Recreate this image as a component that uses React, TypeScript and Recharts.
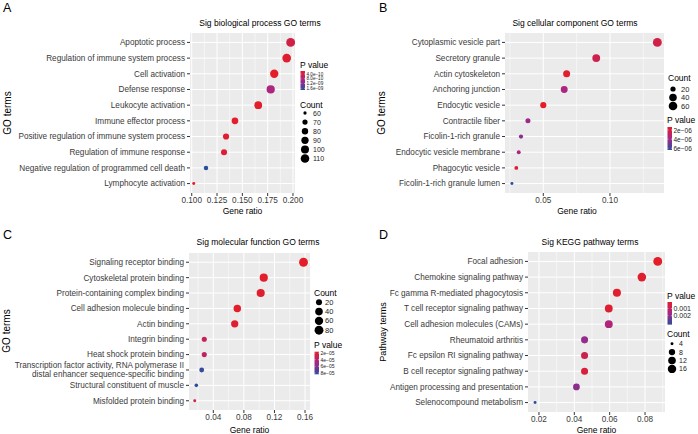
import React from "react";
import { CartesianGrid, Cell, Scatter, ScatterChart, XAxis, YAxis, ZAxis } from "recharts";

const FONT = "'Liberation Sans', Arial, Helvetica, sans-serif";
const AXIS_TEXT = "#3A3A3A";

// A: biological process
const bpTerms = [
  "Apoptotic process",
  "Regulation of immune system process",
  "Cell activation",
  "Defense response",
  "Leukocyte activation",
  "Immune effector process",
  "Positive regulation of immune system process",
  "Regulation of immune response",
  "Negative regulation of programmed cell death",
  "Lymphocyte activation"
];
const bpRatio = [0.1977, 0.1938, 0.1815, 0.178, 0.1657, 0.1427, 0.1339, 0.1319, 0.1141, 0.102];
const bpCount = [115, 112, 105, 103, 96, 83, 78, 77, 66, 59];
const bpPValue = [3.8e-10, 2.2e-10, 1.5e-10, 8.6e-10, 1.6e-10, 1.7e-10, 2.0e-10, 2.4e-10, 1.74e-9, 1.4e-10];
const bpRatioTicks = [0.1, 0.125, 0.15, 0.175, 0.2];
const bpRatioMinor = [0.1125, 0.1375, 0.1625, 0.1875];
const bpCountLegend = [60, 70, 80, 90, 100, 110];
const bpPLegend = [4e-10, 8e-10, 1.2e-9, 1.6e-9];

// B: cellular component
const ccTerms = [
  "Cytoplasmic vesicle part",
  "Secretory granule",
  "Actin cytoskeleton",
  "Anchoring junction",
  "Endocytic vesicle",
  "Contractile fiber",
  "Ficolin-1-rich granule",
  "Endocytic vesicle membrane",
  "Phagocytic vesicle",
  "Ficolin-1-rich granule lumen"
];
const ccRatio = [0.1355, 0.0897, 0.0675, 0.0657, 0.05, 0.0385, 0.0333, 0.0316, 0.0298, 0.0265];
const ccCount = [66, 44, 33, 32, 25, 19, 16, 15, 15, 13];
const ccPValue = [2.1e-6, 2.3e-6, 1.5e-6, 3.6e-6, 1.33e-6, 4.1e-6, 4.5e-6, 3.5e-6, 1.7e-6, 6.4e-6];
const ccRatioTicks = [0.05, 0.1];
const ccRatioMinor = [0.025, 0.075, 0.125];
const ccCountLegend = [20, 40, 60];
const ccPLegend = [2e-6, 4e-6, 6e-6];

// C: molecular function
const mfTerms = [
  "Signaling receptor binding",
  "Cytoskeletal protein binding",
  "Protein-containing complex binding",
  "Cell adhesion molecule binding",
  "Actin binding",
  "Integrin binding",
  "Heat shock protein binding",
  "Transcription factor activity, RNA polymerase II\ndistal enhancer sequence-specific binding",
  "Structural constituent of muscle",
  "Misfolded protein binding"
];
const mfRatio = [0.158, 0.106, 0.102, 0.0714, 0.068, 0.0282, 0.0282, 0.0248, 0.0178, 0.0157];
const mfCount = [81, 54, 52, 37, 35, 14, 14, 13, 9, 8];
const mfPValue = [1.6e-5, 1.7e-5, 1.8e-5, 1.7e-5, 1.9e-5, 3.3e-5, 3.6e-5, 8.1e-5, 8.4e-5, 3.1e-5];
const mfRatioTicks = [0.04, 0.08, 0.12, 0.16];
const mfRatioMinor = [0.02, 0.06, 0.1, 0.14];
const mfCountLegend = [20, 40, 60, 80];
const mfPLegend = [2e-5, 4e-5, 6e-5, 8e-5];

// D: KEGG pathways
const keggTerms = [
  "Focal adhesion",
  "Chemokine signaling pathway",
  "Fc gamma R-mediated phagocytosis",
  "T cell receptor signaling pathway",
  "Cell adhesion molecules (CAMs)",
  "Rheumatoid arthritis",
  "Fc epsilon RI signaling pathway",
  "B cell receptor signaling pathway",
  "Antigen processing and presentation",
  "Selenocompound metabolism"
];
const keggRatio = [0.0872, 0.0782, 0.0641, 0.0595, 0.0595, 0.0458, 0.0458, 0.0458, 0.0412, 0.0178];
const keggCount = [19, 17, 14, 13, 13, 10, 10, 10, 9, 4];
const keggPValue = [1.2e-4, 2.5e-4, 2.0e-4, 3.0e-4, 1.41e-3, 1.9e-3, 7.4e-4, 4.3e-4, 1.97e-3, 3.2e-3];
const keggRatioTicks = [0.02, 0.04, 0.06, 0.08];
const keggRatioMinor = [0.03, 0.05, 0.07, 0.09];
const keggCountLegend = [4, 8, 12, 16];
const keggPLegend = [0.001, 0.002];

// symbol area range (px^2); the z axis is fed log(count)
const SIZE_RANGE: [number, number] = [7, 62];
const COLOR_STOPS: [number, number[]][] = [
  [0, [228, 30, 40]],
  [0.5, [166, 38, 138]],
  [1, [44, 76, 157]]
];

function rgb(c: number[]) {
  return `rgb(${c.map((v) => Math.round(v)).join(",")})`;
}

function gradientColor(t: number) {
  const k = Math.max(0, Math.min(1, t));
  for (let i = 1; i < COLOR_STOPS.length; i++) {
    const [o1, c1] = COLOR_STOPS[i];
    const [o0, c0] = COLOR_STOPS[i - 1];
    if (k <= o1) {
      const f = (k - o0) / (o1 - o0);
      return rgb(c0.map((v, j) => v + (c1[j] - v) * f));
    }
  }
  return rgb(COLOR_STOPS[COLOR_STOPS.length - 1][1]);
}

function expLabel(v: number, digits: number) {
  const [m, e] = v.toExponential(digits).split("e");
  const n = Number(e);
  return `${m}e${n < 0 ? "\u2212" : "+"}${String(Math.abs(n)).padStart(2, "0")}`;
}

const panels = [
  {
    letter: "A", title: "Sig biological process GO terms", yTitle: "GO terms",
    terms: bpTerms, ratio: bpRatio, count: bpCount, pvalue: bpPValue,
    xTicks: bpRatioTicks, xMinor: bpRatioMinor, xDomain: [0.0983, 0.202], xDigits: 3,
    countLegend: bpCountLegend, pLegend: bpPLegend, pLabel: (v: number) => expLabel(v, 1)
  },
  {
    letter: "B", title: "Sig cellular component GO terms", yTitle: "GO terms",
    terms: ccTerms, ratio: ccRatio, count: ccCount, pvalue: ccPValue,
    xTicks: ccRatioTicks, xMinor: ccRatioMinor, xDomain: [0.0213, 0.1405], xDigits: 2,
    countLegend: ccCountLegend, pLegend: ccPLegend, pLabel: (v: number) => expLabel(v, 0)
  },
  {
    letter: "C", title: "Sig molecular function GO terms", yTitle: "GO terms",
    terms: mfTerms, ratio: mfRatio, count: mfCount, pvalue: mfPValue,
    xTicks: mfRatioTicks, xMinor: mfRatioMinor, xDomain: [0.0082, 0.1665], xDigits: 2,
    countLegend: mfCountLegend, pLegend: mfPLegend, pLabel: (v: number) => expLabel(v, 0)
  },
  {
    letter: "D", title: "Sig KEGG pathway terms", yTitle: "Pathway terms",
    terms: keggTerms, ratio: keggRatio, count: keggCount, pvalue: keggPValue,
    xTicks: keggRatioTicks, xMinor: keggRatioMinor, xDomain: [0.0138, 0.0913], xDigits: 2,
    countLegend: keggCountLegend, pLegend: keggPLegend, pLabel: (v: number) => v.toFixed(3)
  }
];

// where things sit inside each 349x217 quadrant
const layouts = [
  {
    x: 0, y: 0, top: 33, right: 54, yAxisW: 190, xAxisH: 24,
    letter: [3, 12], title: [260, 23], yTitle: [7, 113, 10], xTitle: [242.5, 211],
    p: { x: 300, y: 65, barTop: 71, barH: 19, font: 4.6 },
    count: { x: 300, y: 105, first: 8, step: 9.1, dx: 13, font: 7 }
  },
  {
    x: 349, y: 0, top: 33, right: 34, yAxisW: 156, xAxisH: 24,
    letter: [30, 12], title: [226, 23], yTitle: [32, 113, 10], xTitle: [228, 211],
    p: { x: 318, y: 120, barTop: 127, barH: 23, font: 6.5 },
    count: { x: 319, y: 77.7, first: 11.3, step: 8.5, dx: 13, font: 7.5 }
  },
  {
    x: 0, y: 217, top: 36, right: 39, yAxisW: 189, xAxisH: 24,
    letter: [3, 22], title: [258, 25], yTitle: [6, 114, 10], xTitle: [249.5, 213],
    p: { x: 314, y: 128, barTop: 134.7, barH: 22.6, font: 5 },
    count: { x: 314, y: 75.7, first: 9.6, step: 9.3, dx: 11, font: 7.5 }
  },
  {
    x: 349, y: 217, top: 35, right: 33, yAxisW: 179, xAxisH: 22,
    letter: [30, 22], title: [241, 25], yTitle: [34, 115, 9], xTitle: [247.5, 213],
    p: { x: 318, y: 78.7, barTop: 85, barH: 22.6, font: 7 },
    count: { x: 318, y: 117, first: 9.7, step: 8.4, dx: 12, font: 7 }
  }
];

function TermTick(props: any) {
  const { x, y, payload, labels } = props;
  const label: string = labels[payload.value - 1] ?? "";
  const lines = label.split("\n");
  const lineH = 8.8;
  const startDy = -((lines.length - 1) * lineH) / 2 + 2.9;
  return (
    <text x={x} y={y} textAnchor="end" fontSize={8.2} fill={AXIS_TEXT} fontFamily={FONT}>
      {lines.map((line, i) => (
        <tspan key={i} x={x} dy={i === 0 ? startDy : lineH}>
          {line}
        </tspan>
      ))}
    </text>
  );
}

function Panel({ panel, layout }: { panel: (typeof panels)[number]; layout: (typeof layouts)[number] }) {
  const points = panel.terms.map((term, i) => ({
    term,
    rank: i + 1,
    ratio: panel.ratio[i],
    count: panel.count[i],
    logCount: Math.log(panel.count[i]),
    p: panel.pvalue[i]
  }));
  const ranks = points.map((pt) => pt.rank);
  const lMin = Math.log(Math.min(...panel.count));
  const lMax = Math.log(Math.max(...panel.count));
  const pMin = Math.min(...panel.pvalue);
  const pMax = Math.max(...panel.pvalue);
  // same mapping as the ZAxis below, for the legend keys
  const area = (c: number) =>
    SIZE_RANGE[0] + ((Math.log(c) - lMin) / (lMax - lMin)) * (SIZE_RANGE[1] - SIZE_RANGE[0]);
  const gradId = `pgrad-${panel.letter}`;
  const { p, count } = layout;

  return (
    <div style={{ position: "absolute", left: layout.x, top: layout.y, width: 349, height: 217 }}>
      <ScatterChart width={349} height={217} margin={{ top: layout.top, right: layout.right, bottom: 0, left: 0 }}>
        <CartesianGrid fill="#EBEBEB" stroke="#FFFFFF" strokeWidth={1} verticalValues={panel.xTicks} horizontalValues={ranks} />
        <CartesianGrid stroke="#FFFFFF" strokeWidth={0.5} horizontal={false} verticalValues={panel.xMinor} />
        <XAxis
          type="number"
          dataKey="ratio"
          domain={panel.xDomain}
          ticks={panel.xTicks}
          allowDataOverflow
          interval={0}
          height={layout.xAxisH}
          axisLine={false}
          tickSize={3}
          tickMargin={1}
          tickLine={{ stroke: "#333333" }}
          tick={{ fontSize: 8.2, fill: AXIS_TEXT, fontFamily: FONT }}
          tickFormatter={(v: number) => v.toFixed(panel.xDigits)}
        />
        <YAxis
          type="number"
          dataKey="rank"
          domain={[0.4, points.length + 0.6]}
          ticks={ranks}
          reversed
          allowDataOverflow
          interval={0}
          width={layout.yAxisW}
          axisLine={false}
          tickSize={3}
          tickMargin={2}
          tickLine={{ stroke: "#333333" }}
          tick={<TermTick labels={panel.terms} />}
        />
        <ZAxis type="number" dataKey="logCount" domain={[lMin, lMax]} range={SIZE_RANGE} />
        <Scatter data={points} isAnimationActive={false}>
          {points.map((pt) => (
            <Cell key={pt.term} fill={gradientColor((pt.p - pMin) / (pMax - pMin))} />
          ))}
        </Scatter>
      </ScatterChart>

      <svg
        width={349}
        height={217}
        fontFamily={FONT}
        style={{ position: "absolute", left: 0, top: 0, overflow: "visible", pointerEvents: "none" }}
      >
        <defs>
          <linearGradient id={gradId} x1="0" y1="0" x2="0" y2="1">
            {COLOR_STOPS.map(([o, c]) => (
              <stop key={o} offset={o} stopColor={rgb(c)} />
            ))}
          </linearGradient>
        </defs>
        <text x={layout.letter[0]} y={layout.letter[1]} fontSize={12.5} fill="#000">
          {panel.letter}
        </text>
        <text x={layout.title[0]} y={layout.title[1]} textAnchor="middle" dominantBaseline="central" fontSize={8.5} fill="#000">
          {panel.title}
        </text>
        <text
          transform={`translate(${layout.yTitle[0]},${layout.yTitle[1]}) rotate(-90)`}
          textAnchor="middle"
          dominantBaseline="central"
          fontSize={layout.yTitle[2]}
          fill="#000"
        >
          {panel.yTitle}
        </text>
        <text x={layout.xTitle[0]} y={layout.xTitle[1]} textAnchor="middle" dominantBaseline="central" fontSize={8.5} fill="#000">
          Gene ratio
        </text>

        {/* P value colour bar */}
        <text x={p.x} y={p.y} dominantBaseline="central" fontSize={8.5} fill="#000">
          P value
        </text>
        <rect x={p.x + 0.5} y={p.barTop} width={4.5} height={p.barH} fill={`url(#${gradId})`} />
        {panel.pLegend.map((v) => {
          const ly = p.barTop + ((v - pMin) / (pMax - pMin)) * p.barH;
          return (
            <g key={v}>
              <line x1={p.x + 0.5} x2={p.x + 1.5} y1={ly} y2={ly} stroke="#fff" strokeWidth={0.5} />
              <line x1={p.x + 4} x2={p.x + 5} y1={ly} y2={ly} stroke="#fff" strokeWidth={0.5} />
              <text x={p.x + 6.5} y={ly} dominantBaseline="central" fontSize={p.font} fill="#222">
                {panel.pLabel(v)}
              </text>
            </g>
          );
        })}

        {/* Count size legend */}
        <text x={count.x} y={count.y} dominantBaseline="central" fontSize={8.5} fill="#000">
          Count
        </text>
        {panel.countLegend.map((v, i) => {
          const cy = count.y + count.first + i * count.step;
          return (
            <g key={v}>
              <circle cx={count.x + 5} cy={cy} r={Math.sqrt(Math.max(area(v), 2) / Math.PI)} fill="#000" />
              <text x={count.x + count.dx} y={cy} dominantBaseline="central" fontSize={count.font} fill="#222">
                {v}
              </text>
            </g>
          );
        })}
      </svg>
    </div>
  );
}

export default function App() {
  return (
    <div
      style={{
        position: "absolute",
        left: 0,
        top: 0,
        width: 698,
        height: 434,
        overflow: "hidden",
        background: "#fff",
        fontFamily: FONT
      }}
    >
      {panels.map((panel, i) => (
        <Panel key={panel.letter} panel={panel} layout={layouts[i]} />
      ))}
    </div>
  );
}
